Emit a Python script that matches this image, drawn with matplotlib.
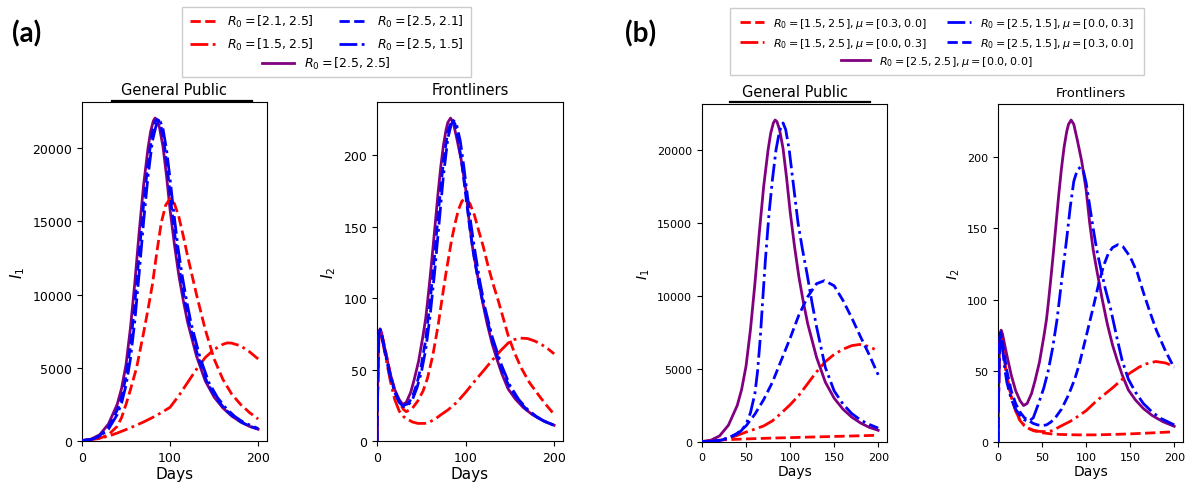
import matplotlib
matplotlib.use("Agg")
import matplotlib.pyplot as plt
from matplotlib.patches import Rectangle

# ---------------- data ----------------
# purple: R0 = [2.5, 2.5], mu = [0, 0] (same run in (a) and (b))
purple_i1_days = [0, 10, 20, 30, 40, 45, 50, 55, 60, 65, 70, 75, 78, 81, 83, 85, 88, 92, 96, 100,
                  105, 110, 115, 120, 130, 140, 150, 160, 170, 180, 190, 200]
purple_i1 = [30, 120, 420, 1150, 2500, 3600, 5200, 7700, 10800, 14300, 17500, 20000, 21150, 21850, 22050,
             21950, 21400, 20100, 18100, 15800, 13400, 11300, 9600, 8100, 5800, 4100, 3000, 2250, 1700,
             1300, 1000, 800]
purple_i2_days = [0, 1, 2, 3.5, 5, 10, 15, 20, 25, 29, 33, 38, 42, 47, 52, 55, 57, 60, 63, 66, 69, 72, 75,
                  78, 80, 83, 86, 90, 95, 100, 104, 108, 112, 118, 124, 130, 135, 141, 148, 156, 165, 175,
                  187, 200]
purple_i2 = [0, 50, 74, 78.5, 76, 61, 47, 36, 29, 25.6, 27, 34, 43, 56, 74, 86, 97, 115, 134, 154, 174, 192,
             207, 218, 223, 226, 223, 212, 197, 177, 154, 135, 121, 101, 83, 68, 58, 47, 36.5, 29.5, 23.5,
             18.6, 14.3, 11]

# (a) General Public, I1
a_bdash_i1_days = [0, 10, 20, 30, 40, 45, 50, 55, 60, 65, 70, 75, 80, 83, 85, 87, 90, 94, 98, 102, 107, 112,
                   117, 122, 132, 142, 152, 162, 172, 182, 192, 200]
a_bdash_i1 = [30, 100, 350, 950, 2100, 3000, 4400, 6500, 9400, 12800, 16200, 19000, 21150, 21800, 21950,
              21900, 21400, 20000, 18000, 15800, 13300, 11200, 9500, 8000, 5700, 4000, 2950, 2200, 1650,
              1250, 980, 820]
a_bdot_i1_days = [0, 10, 20, 30, 40, 45, 50, 55, 60, 65, 70, 75, 80, 84, 87, 89, 92, 96, 100, 104, 109, 114,
                  119, 124, 134, 144, 154, 164, 174, 184, 200]
a_bdot_i1 = [30, 90, 300, 800, 1800, 2600, 3800, 5600, 8200, 11500, 15000, 18100, 20500, 21500, 21850, 21800,
             21300, 19900, 17900, 15700, 13200, 11200, 9500, 8000, 5700, 4000, 2950, 2200, 1650, 1250, 850]
a_rdash_i1_days = [0, 10, 20, 30, 40, 45, 50, 55, 62, 70, 75, 80, 85, 90, 95, 100, 105, 110, 115, 120, 125,
                   130, 140, 150, 160, 170, 180, 190, 200]
a_rdash_i1 = [30, 70, 180, 420, 1000, 1600, 2500, 3500, 5000, 7400, 9000, 10700, 12900, 14900, 16100, 16550,
              16200, 15300, 14000, 12600, 11300, 10000, 7600, 5600, 4200, 3200, 2500, 1950, 1500]
a_rdot_i1_days = [0, 10, 20, 30, 40, 50, 60, 70, 80, 90, 100, 110, 120, 130, 140, 150, 160, 165, 170, 180,
                  190, 200]
a_rdot_i1 = [30, 80, 180, 330, 540, 780, 1030, 1300, 1600, 1930, 2300, 3100, 4000, 4900, 5700, 6250, 6600,
             6700, 6680, 6500, 6100, 5600]

# (a) Frontliners, I2
a_bdash_i2_days = [0, 1, 2, 3.5, 5, 10, 15, 20, 25, 30, 35, 40, 45, 50, 55, 60, 65, 70, 75, 80, 85, 88, 92,
                   96, 100, 105, 110, 115, 120, 130, 140, 150, 160, 170, 180, 190, 200]
a_bdash_i2 = [0, 50, 74, 78, 75, 60, 46, 35, 28, 25, 26, 31, 40, 53, 71, 98, 130, 165, 196, 217, 225, 222,
              210, 193, 173, 148, 127, 110, 96, 71, 51, 37, 28, 21.5, 17, 13.5, 11]
a_bdot_i2_days = [0, 1, 2, 3.5, 5, 10, 15, 20, 25, 30, 35, 40, 45, 50, 55, 60, 65, 70, 75, 80, 84, 87, 90,
                  94, 98, 102, 106, 110, 116, 122, 130, 140, 150, 160, 170, 180, 190, 200]
a_bdot_i2 = [0, 50, 74, 78, 75, 59, 45, 34, 27, 24, 25, 29, 37, 48, 64, 88, 118, 152, 186, 212, 222, 224,
             221, 210, 192, 172, 152, 135, 112, 93, 73, 54, 39, 29, 22, 17, 13.5, 11]
a_rdash_i2_days = [0, 1, 2, 3.5, 5, 10, 15, 20, 25, 30, 33, 40, 46, 52, 57, 63, 69, 74, 78, 84, 88, 92, 96,
                   100, 105, 110, 114, 120, 126, 132, 137, 148, 155, 163, 172, 182, 190, 200]
a_rdash_i2 = [0, 45, 70, 78, 76, 62, 47, 35, 27, 22, 20.5, 23, 28, 35, 44, 60, 81, 102, 118, 140, 152, 162,
              168, 169.5, 166, 158, 149, 136, 121, 108, 98, 74, 62, 51, 41, 32.5, 26, 18.6]
a_rdot_i2_days = [0, 1, 2, 3.5, 5, 10, 15, 20, 25, 30, 35, 40, 46, 54, 60, 66, 72, 80, 90, 100, 110, 120,
                  130, 140, 148, 155, 162, 170, 178, 186, 193, 200]
a_rdot_i2 = [0, 45, 70, 77, 74, 58, 42, 29, 21, 17, 15, 13.3, 12.3, 12.3, 13.5, 15.5, 18.3, 21.7, 27, 34,
             41.7, 49, 56.5, 63.5, 68.5, 71, 72, 71.7, 70, 67.4, 64.5, 61]

# (b) General Public, I1
b_bdot_i1_days = [0, 10, 20, 25, 30, 40, 45, 50, 55, 60, 63, 66, 69, 72, 76, 80, 84, 88, 92, 95, 99, 104,
                  109, 114, 119, 125, 130, 140, 150, 160, 170, 180, 190, 200]
b_bdot_i1 = [30, 60, 120, 200, 300, 550, 800, 1200, 2000, 3300, 4800, 7000, 9800, 12500, 15600, 18000, 20000,
             21300, 21850, 21400, 20000, 17500, 15000, 13200, 11600, 9500, 7900, 5100, 3500, 2600, 1950,
             1500, 1200, 950]
b_bdash_i1_days = [0, 10, 20, 30, 40, 50, 60, 70, 80, 90, 100, 110, 120, 130, 139, 150, 160, 170, 180, 190,
                   200]
b_bdash_i1 = [30, 50, 100, 250, 600, 1100, 1900, 2900, 4100, 5600, 7100, 8700, 9950, 10840, 11050, 10700,
              9700, 8500, 7200, 5950, 4600]
b_rdot_i1_days = [0, 10, 20, 30, 40, 50, 60, 70, 80, 90, 100, 110, 120, 130, 140, 150, 160, 170, 179, 185,
                  190, 196]
b_rdot_i1 = [30, 60, 120, 250, 450, 680, 880, 1100, 1450, 1980, 2550, 3200, 4000, 4800, 5500, 6000, 6350,
             6600, 6680, 6620, 6520, 6350]
b_rdash_i1_days = [0, 25, 50, 75, 100, 125, 150, 175, 200]
b_rdash_i1 = [30, 150, 210, 260, 300, 340, 380, 420, 460]

# (b) Frontliners, I2
b_bdot_i2_days = [0, 1, 2, 3, 5, 8, 10, 15, 20, 25, 30, 35, 40, 46, 52, 57, 62, 67, 73.5, 78, 82, 86, 90,
                  93.7, 97, 100, 104, 108, 112, 117.6, 122, 128, 135, 141, 148, 156, 165, 175, 185, 200]
b_bdot_i2 = [0, 50, 72, 76, 66, 50, 42, 30, 23, 18.5, 15.5, 14.5, 17, 27, 38, 50, 66, 86, 120, 143, 165,
             183, 191, 193, 190, 182, 166, 150, 135, 119, 107, 93, 73, 57, 44, 35, 27, 21, 16.5, 12]
b_bdash_i2_days = [0, 1, 2, 3, 5, 10, 15, 20, 25, 30, 35, 40, 45, 50, 55, 60, 65, 72, 80, 87, 92, 100, 109,
                   115, 120, 125, 130, 136, 142, 150, 158, 165, 172, 180, 190, 200]
b_bdash_i2 = [0, 50, 72, 77, 70, 50, 36, 27, 21, 17, 15, 13, 12, 11.5, 12, 14, 17, 23, 33, 44, 54, 74, 97,
              113, 124, 132, 136.5, 138.5, 137, 130, 119, 105, 92, 78, 64, 52]
b_rdash_i2_days = [0, 1, 2, 3, 5, 10, 15, 20, 25, 30, 35, 40, 50, 60, 70, 90, 110, 130, 150, 175, 200]
b_rdash_i2 = [0, 48, 70, 75, 68, 46, 32, 22, 15, 11.5, 9.5, 8, 6.5, 5.7, 5.3, 5, 5, 5.3, 5.7, 6.4, 7.2]
b_rdot_i2_days = [0, 1, 2, 3, 5, 10, 15, 20, 25, 30, 35, 40, 46, 55, 62, 72, 82, 92, 100, 110, 120, 130,
                  140, 150, 160, 168, 179, 190, 200]
b_rdot_i2 = [0, 48, 70, 75, 68, 46, 32, 22, 15, 11.5, 9.5, 8.3, 7.5, 7.2, 8, 11.4, 14.5, 18.5, 22, 27.8, 33,
             38, 43.5, 48.5, 52.5, 54.8, 56.5, 55.5, 53]

labels_a = [r"$R_0 = [2.1, 2.5]$", r"$R_0 = [1.5, 2.5]$", r"$R_0 = [2.5, 2.1]$",
            r"$R_0 = [2.5, 1.5]$", r"$R_0 = [2.5, 2.5]$"]
labels_b = [r"$R_0 = [1.5, 2.5], \mu = [0.3, 0.0]$", r"$R_0 = [1.5, 2.5], \mu = [0.0, 0.3]$",
            r"$R_0 = [2.5, 1.5], \mu = [0.0, 0.3]$", r"$R_0 = [2.5, 1.5], \mu = [0.3, 0.0]$",
            r"$R_0 = [2.5, 2.5], \mu = [0.0, 0.0]$"]

LW = 2.0

fig = plt.figure(figsize=(11.86, 4.85), dpi=100)

ax1 = fig.add_axes([0.0691, 0.0887, 0.156, 0.699])
ax2 = fig.add_axes([0.3179, 0.0887, 0.1568, 0.699])
ax3 = fig.add_axes([0.5919, 0.0866, 0.156, 0.697])
ax4 = fig.add_axes([0.8415, 0.0866, 0.156, 0.697])


def draw(ax, purple, rdash, rdot, bdash, bdot):
    hp, = ax.plot(*purple, color="purple", lw=LW, zorder=2)
    hr1, = ax.plot(*rdash, color="red", ls="--", lw=LW, zorder=3)
    hr2, = ax.plot(*rdot, color="red", ls="-.", lw=LW, zorder=3)
    hb1, = ax.plot(*bdash, color="blue", ls="--", lw=LW, zorder=4)
    hb2, = ax.plot(*bdot, color="blue", ls="-.", lw=LW, zorder=4)
    return hr1, hr2, hb1, hb2, hp


h_a = draw(ax1, (purple_i1_days, purple_i1), (a_rdash_i1_days, a_rdash_i1), (a_rdot_i1_days, a_rdot_i1),
           (a_bdash_i1_days, a_bdash_i1), (a_bdot_i1_days, a_bdot_i1))
draw(ax2, (purple_i2_days, purple_i2), (a_rdash_i2_days, a_rdash_i2), (a_rdot_i2_days, a_rdot_i2),
     (a_bdash_i2_days, a_bdash_i2), (a_bdot_i2_days, a_bdot_i2))
h_b = draw(ax3, (purple_i1_days, purple_i1), (b_rdash_i1_days, b_rdash_i1), (b_rdot_i1_days, b_rdot_i1),
           (b_bdash_i1_days, b_bdash_i1), (b_bdot_i1_days, b_bdot_i1))
draw(ax4, (purple_i2_days, purple_i2), (b_rdash_i2_days, b_rdash_i2), (b_rdot_i2_days, b_rdot_i2),
     (b_bdash_i2_days, b_bdash_i2), (b_bdot_i2_days, b_bdot_i2))

for ax, ttl, yl, tfs, lfs, kfs, xt in [
    (ax1, "General Public", r"$I_1$", 10.5, 11, 9, [0, 100, 200]),
    (ax2, "Frontliners", r"$I_2$", 10.5, 11, 9, [0, 100, 200]),
    (ax3, "General Public", r"$I_1$", 10.5, 10, 8, [0, 50, 100, 150, 200]),
    (ax4, "Frontliners", r"$I_2$", 9.5, 10, 8, [0, 50, 100, 150, 200]),
]:
    ax.set_xlim(left=0)
    ax.set_ylim(bottom=0)
    ax.set_xticks(xt)
    ax.tick_params(labelsize=kfs)
    ax.set_title(ttl, fontsize=tfs)
    ax.set_xlabel("Days", fontsize=lfs, labelpad=2)
    ax.set_ylabel(yl, fontsize=lfs)

# dark strip over the top of the General Public boxes
ax1.plot([0.16, 0.92], [1.004, 1.004], transform=ax1.transAxes, color="black", lw=1.6, clip_on=False)
ax3.plot([0.15, 0.91], [1.006, 1.006], transform=ax3.transAxes, color="black", lw=1.6, clip_on=False)

# legends: two columns plus a centred last row, inside one light frame
fig.add_artist(Rectangle((0.1535, 0.839), 0.2437, 0.1443, transform=fig.transFigure,
                         facecolor="white", edgecolor="#cccccc", lw=1.0))
fig.legend([h_a[0], h_a[1], h_a[2], h_a[3]], labels_a[:4], ncol=2, loc="upper center",
           bbox_to_anchor=(0.2753, 0.994), frameon=False, fontsize=9, handlelength=2.2,
           columnspacing=2.0, labelspacing=0.55)
fig.legend([h_a[4]], labels_a[4:], loc="upper center", bbox_to_anchor=(0.2753, 0.907),
           frameon=False, fontsize=9, handlelength=2.6)

fig.add_artist(Rectangle((0.6155, 0.8433), 0.349, 0.138, transform=fig.transFigure,
                         facecolor="white", edgecolor="#cccccc", lw=1.0))
fig.legend([h_b[0], h_b[1], h_b[3], h_b[2]], [labels_b[0], labels_b[1], labels_b[2], labels_b[3]],
           ncol=2, loc="upper center", bbox_to_anchor=(0.790, 0.985), frameon=False, fontsize=8,
           handlelength=2.2, columnspacing=1.8, labelspacing=0.5)
fig.legend([h_b[4]], labels_b[4:], loc="upper center", bbox_to_anchor=(0.790, 0.907),
           frameon=False, fontsize=8, handlelength=2.6)

fig.text(0.010, 0.93, "(a)", fontsize=20, fontweight="bold", va="center", family="Lato")
fig.text(0.527, 0.93, "(b)", fontsize=20, fontweight="bold", va="center", family="Lato")

fig.savefig("out.png", dpi=100)
